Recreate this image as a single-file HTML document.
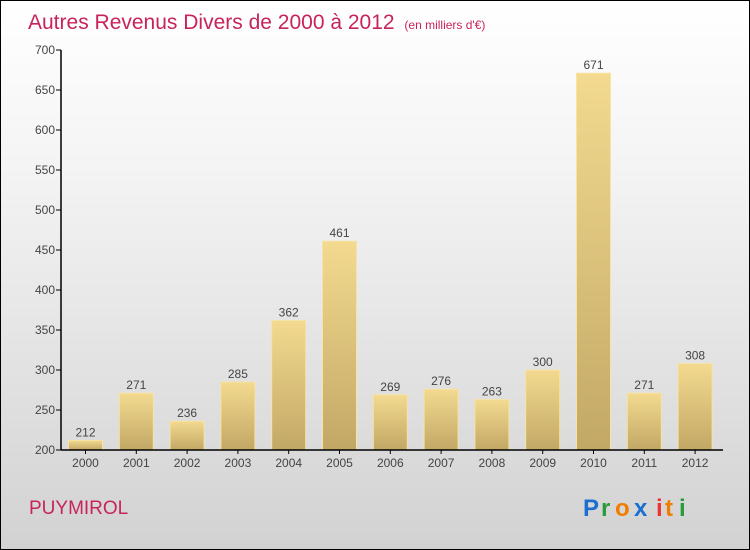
<!DOCTYPE html>
<html><head><meta charset="utf-8"><style>
body{margin:0}
#c{position:relative;width:748px;height:548px;border:1px solid #000;background:linear-gradient(#fff,#f4f4f4 30%,#d2d2d2);font-family:"Liberation Sans",sans-serif;overflow:hidden}
</style></head><body>
<div id="c">
<svg width="748" height="548" id="svg">
<defs><linearGradient id="bg" x1="0" y1="0" x2="0" y2="1"><stop offset="0" stop-color="#f3da90"/><stop offset="1" stop-color="#c2a865"/></linearGradient></defs>
<text x="27" y="28" font-size="21" fill="#c8245a">Autres Revenus Divers de 2000 à 2012 <tspan font-size="12" dx="4">(en milliers d'€)</tspan></text>
<text x="28" y="513" font-size="19" fill="#c8245a">PUYMIROL</text>
<g font-size="24" font-weight="bold">
<text x="582" y="515" fill="#1a6fd0">P</text><text x="600" y="515" fill="#2a9a3a">r</text><text x="614" y="515" fill="#f07d00">o</text><text x="633" y="515" fill="#1a6fd0">x</text><text x="655" y="515" fill="#e33">i</text><text x="664" y="515" fill="#f07d00">t</text><text x="678" y="515" fill="#2a9a3a">i</text></g>
<g id="g"></g>
</svg></div>
<script>
const years=["2000","2001","2002","2003","2004","2005","2006","2007","2008","2009","2010","2011","2012"];
const values=[212,271,236,285,362,461,269,276,263,300,671,271,308];
const ticks=[200,250,300,350,400,450,500,550,600,650,700];
const g=document.getElementById('g');const ns="http://www.w3.org/2000/svg";
const y=v=>449-(v-200)*0.8;const x=i=>84.5+i*50.8;
function el(t,a,p){const e=document.createElementNS(ns,t);for(const k in a)e.setAttribute(k,a[k]);(p||g).appendChild(e);return e;}
ticks.forEach(t=>{
const l=el('line',{x1:55,x2:60,y1:y(t),y2:y(t),stroke:'#000'});


const tx=el('text',{x:54,y:y(t)+4,'text-anchor':'end','font-size':12,fill:'#444'});tx.textContent=t;


});
values.forEach((v,i)=>{
const r=el('rect',{x:x(i)-17,y:y(v),width:34,height:y(200)-y(v),fill:'url(#bg)',stroke:'#f6e3a6','stroke-width':1});


const vt=el('text',{x:x(i),y:y(v)-4,'text-anchor':'middle','font-size':12,fill:'#444'});vt.textContent=v;


const xt=el('text',{x:x(i),y:466,'text-anchor':'middle','font-size':12,fill:'#444'});xt.textContent=years[i];


const tk=el('line',{x1:x(i),x2:x(i),y1:449,y2:453,stroke:'#000'});


});
const ya=el('line',{x1:60,x2:60,y1:y(700),y2:449,stroke:'#000','stroke-width':1.5});


const xa=el('line',{x1:60,x2:722,y1:449,y2:449,stroke:'#000','stroke-width':1.5});


</script>
</body></html>
